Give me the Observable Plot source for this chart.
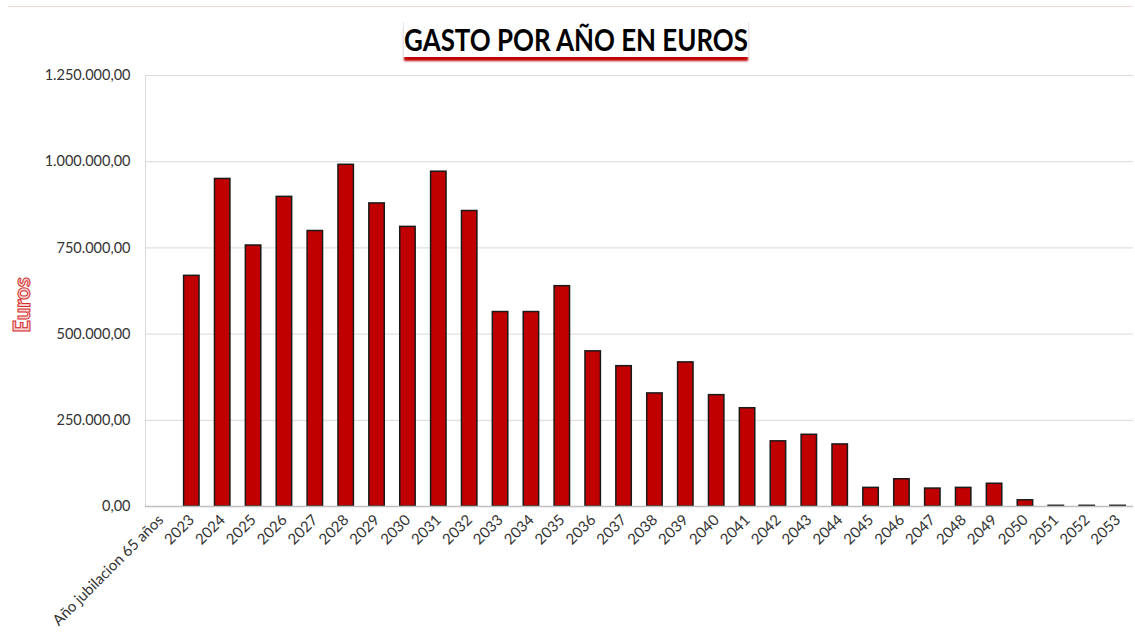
<!DOCTYPE html>
<html>
<head>
<meta charset="utf-8">
<script src="https://cdn.jsdelivr.net/npm/d3@7"></script>
<script src="https://cdn.jsdelivr.net/npm/@observablehq/plot@0.6"></script>
<style>
  body { margin: 0; background: #fff; font-family: Lato, sans-serif; }
  #wrap { position: relative; width: 1135px; height: 634px; }
  #topline { position: absolute; left: 8px; right: 2px; top: 6px; height: 1px; background: #f3d6d6; }
  #title { position: absolute; left: 403px; top: 22px; width: 344px; height: 35px; background: #fff;
    border-left: 1px solid #e6e6e6; border-right: 1px solid #e6e6e6;
    box-shadow: 0 5px 2px -1px #c00000; overflow: visible; }
  #title span {
    position: absolute; left: 50%; top: 0; white-space: nowrap;
    transform: translateX(-50%) scaleX(0.863);
    font-family: Lato, sans-serif; font-weight: 700; font-size: 30px;
    color: #000; line-height: 35px;
  }
  #ylab {
    position: absolute; left: 21px; top: 305px; transform: translate(-50%, -50%) rotate(-90deg);
    font-family: Lato, sans-serif; font-weight: 900; font-size: 22px; color: #f8d0d0;
    -webkit-text-stroke: 1px #d42a2a; white-space: nowrap;
  }
  #chart { position: absolute; left: 0; top: 65px; }
  #chart svg g[aria-label="y-axis tick label"] { font-size: 14.5px; }
</style>
</head>
<body>
<div id="wrap">
  <div id="topline"></div>
  <div id="title"><span>GASTO POR AÑO EN EUROS</span></div>
  <div id="chart"></div>
  <div id="ylab"></div>
</div>
<script>
const categories = ["Año jubilacion 65 años", "2023", "2024", "2025", "2026", "2027", "2028", "2029", "2030", "2031", "2032",
  "2033", "2034", "2035", "2036", "2037", "2038", "2039", "2040", "2041", "2042",
  "2043", "2044", "2045", "2046", "2047", "2048", "2049", "2050", "2051", "2052", "2053"];
const gasto = [null, 669000, 950000, 757000, 898000, 799000, 991000, 879000, 811000, 971000, 857000,
  564000, 564000, 639000, 450000, 407000, 328000, 418000, 323000, 285000, 189000,
  208000, 180000, 54000, 79000, 52000, 54000, 66000, 18000, 2000, 2000, 2000];
const yTicks = [0, 250000, 500000, 750000, 1000000, 1250000];
const yLabel = "Euros";

document.getElementById("ylab").textContent = yLabel;
const data = categories.map((c, i) => ({ cat: c, value: gasto[i] })).filter(d => d.value != null);
const fmt = d => d3.format(",.2f")(d).replace(/,/g, "X").replace(/\./g, ",").replace(/X/g, ".");

const chart = Plot.plot({
  width: 1135,
  height: 569,
  marginTop: 10,
  marginBottom: 128,
  marginLeft: 145,
  marginRight: 2,
  style: { fontFamily: "Lato, sans-serif", fontSize: "15px", color: "#333333", background: "transparent" },
  x: { domain: categories, paddingInner: 0.5, paddingOuter: 0.25, round: false, label: null, tickRotate: -45, tickSize: 0, tickPadding: 11 },
  y: { domain: [0, 1250000], ticks: yTicks, tickFormat: fmt, tickSize: 0, tickPadding: 15, label: null },
  marks: [
    Plot.gridY(yTicks, { stroke: "#d9d9d9", strokeOpacity: 1 }),
    Plot.frame({ anchor: "left", stroke: "#d9d9d9" }),
    Plot.barY(data, { x: "cat", y: "value", fill: "#c00000", stroke: "#1a1a1a", strokeWidth: 1.5 }),
    Plot.ruleY([0], { stroke: "#bfbfbf", strokeWidth: 1.5 })
  ]
});
document.getElementById("chart").appendChild(chart);
</script>
</body>
</html>
